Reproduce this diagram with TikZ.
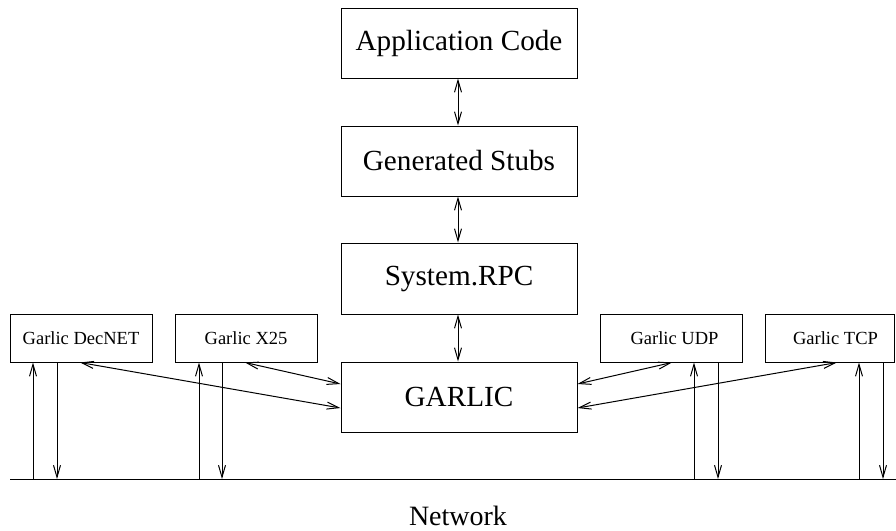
\documentclass[tikz,border=0pt]{standalone}
\usepackage{fontspec}
\setmainfont{Liberation Serif}
\usetikzlibrary{arrows.meta}
\begin{document}
\begin{tikzpicture}[x=0.5pt,y=-0.5pt,
  line width=0.5pt,
  bigbox/.style={draw, rectangle, inner sep=0pt, minimum width=118pt, minimum height=35pt, font=\fontsize{14.6}{17}\selectfont},
  smallbox/.style={draw, rectangle, inner sep=0pt, minimum width=71pt, minimum height=24pt, font=\fontsize{9.25}{11}\selectfont},
  tip/.tip={Straight Barb[length=6pt,width=3.5pt]},
  bi/.style={tip-tip},
  upar/.style={-tip},
]
\useasboundingbox (0,0) rectangle (896,531);
% main stack
\node[bigbox] (app) at (459,43) {Application Code};
\node[bigbox] (stubs) at (459,161) {Generated Stubs};
\node[bigbox, minimum height=35.5pt] (rpc) at (459,278.5) {System.RPC};
\node[bigbox] (garlic) at (459,397) {GARLIC};
% protocol boxes
\node[smallbox] (dec) at (81,338) {Garlic DecNET};
\node[smallbox] (x25) at (246,338) {Garlic X25};
\node[smallbox] (udp) at (671,338) {\hspace*{3.5pt}Garlic UDP};
\node[smallbox, minimum width=64.5pt] (tcp) at (829.5,338) {\hspace*{6pt}Garlic TCP};
% stack connectors
\draw[bi] (app.south -| 458,0) -- (stubs.north -| 458,0);
\draw[bi] (stubs.south -| 458,0) -- (rpc.north -| 458,0);
\draw[bi] (rpc.south -| 458,0) -- (garlic.north -| 458,0);
% diagonal connectors
\coordinate (gl1) at ([yshift=6.5pt]garlic.west);
\coordinate (gl2) at ([yshift=-5.5pt]garlic.west);
\coordinate (gr1) at ([yshift=6.5pt]garlic.east);
\coordinate (gr2) at ([yshift=-5.5pt]garlic.east);
\draw[bi] ([xshift=-0.5pt]dec.south) -- (gl2);
\draw[bi] ([xshift=-0.5pt]x25.south) -- (gl1);
\draw[bi] ([xshift=0.5pt]udp.south) -- (gr1);
\draw[bi] ([xshift=3.75pt]tcp.south) -- (gr2);
% network
\coordinate (netL) at (10,479);
\coordinate (netR) at (896,479);
\draw (netL) -- (netR);
\node[font=\fontsize{14}{17}\selectfont] (net) at (458,516) {Network};
% network connectors
\foreach \u/\d/\b in {33/57/dec, 199/222/x25, 694/718/udp, 859/883/tcp}{
  \coordinate (up\b) at (\u,479);
  \coordinate (dn\b) at (\d,479);
  \draw[-tip] (up\b) -- (up\b |- \b.south);
  \draw[-tip] (dn\b |- \b.south) -- (dn\b);
}
\end{tikzpicture}
\end{document}
